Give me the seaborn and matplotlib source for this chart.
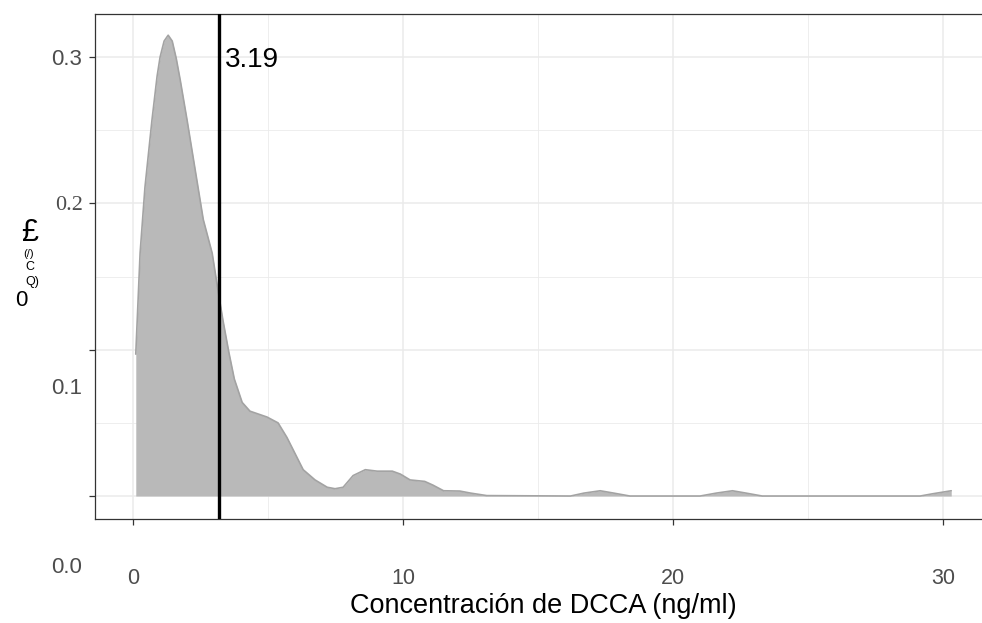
import matplotlib
matplotlib.use("Agg")
import matplotlib.pyplot as plt
import seaborn as sns
import pandas as pd
from matplotlib.transforms import ScaledTranslation

# ---- data ----
conc = [0.10, 0.26, 0.44, 0.70, 0.89, 1.00, 1.15, 1.30, 1.45, 1.60, 1.75, 2.00,
        2.30, 2.60, 2.93, 3.15, 3.33, 3.55, 3.75, 4.04, 4.33, 4.96, 5.37, 5.70,
        6.00, 6.30, 6.74, 7.19, 7.48, 7.78, 8.15, 8.60, 9.04, 9.60, 9.90, 10.26,
        10.80, 11.10, 11.50, 12.10, 12.50, 13.10, 16.20, 16.70, 17.30, 17.80,
        18.40, 21.00, 21.60, 22.20, 22.70, 23.30, 29.15, 29.60, 30.30]
density = [0.097, 0.166, 0.211, 0.257, 0.287, 0.300, 0.311, 0.315, 0.311, 0.299,
           0.284, 0.257, 0.223, 0.189, 0.166, 0.140, 0.120, 0.098, 0.080, 0.064,
           0.058, 0.054, 0.050, 0.040, 0.029, 0.018, 0.011, 0.006, 0.005, 0.006,
           0.014, 0.018, 0.017, 0.017, 0.015, 0.011, 0.010, 0.0075, 0.0036,
           0.0034, 0.002, 0.0003, 0.0, 0.002, 0.0036, 0.002, 0.0, 0.0, 0.002,
           0.0036, 0.002, 0.0, 0.0, 0.0015, 0.0036]
mean_value = 3.19
x_ticks = [0, 10, 20, 30]
x_tick_labels = ["0", "10", "20", "30"]
y_ticks = [0.0, 0.1, 0.2, 0.3]
y_tick_labels = ["0.0", "0.1", "0.2", "0.3"]
x_label = "Concentración de DCCA (ng/ml)"
y_label_parts = ["£", "(/)", "C", "Q)", "0"]

sns.set_theme(style="whitegrid")
plt.rcParams['font.family'] = ['Liberation Sans', 'DejaVu Sans']

W, H = 982, 623
fig = plt.figure(figsize=(W / 100, H / 100), dpi=100)
ax = fig.add_axes([95 / W, (H - 519) / H, 897 / W, 505 / H])

df = pd.DataFrame({"conc": conc, "density": density})
ax.fill_between(df["conc"], df["density"], 0, color="#b9b9b9", linewidth=0, zorder=2)
sns.lineplot(data=df, x="conc", y="density", ax=ax, color="#a3a3a3", lw=1.2,
             sort=False, estimator=None, zorder=3)
ax.axvline(mean_value, color="black", lw=2.4, zorder=4)
ax.text(mean_value + 0.22, 0.298, f"{mean_value:.2f}", fontsize=20,
        va="center", ha="left", color="black", zorder=5)

ax.set_xlim(-1.41, 31.81)
ax.set_ylim(-0.0157, 0.3295)
ax.set_xticks(x_ticks)
ax.set_xticklabels(x_tick_labels)
ax.set_xticks([5, 15, 25], minor=True)
ax.set_yticks(y_ticks)
ax.set_yticklabels(y_tick_labels)
ax.set_yticks([0.05, 0.15, 0.25], minor=True)

ax.grid(which="major", color="#ebebeb", lw=1.1)
ax.grid(which="minor", color="#ebebeb", lw=0.6)
ax.set_axisbelow(True)
for side in ["left", "bottom", "top", "right"]:
    ax.spines[side].set_color("#333333")
    ax.spines[side].set_linewidth(0.9)

ax.tick_params(axis="x", which="major", length=4, width=0.9, color="#333333",
               pad=31.5, labelsize=15.5, labelcolor="#4d4d4d", bottom=True)
ax.tick_params(axis="y", which="major", length=4, width=0.9, color="#333333",
               pad=5, labelsize=16, labelcolor="#4d4d4d", left=True)
ax.tick_params(which="minor", length=0)

# displaced tick labels as in the reference
offsets = {"0.1": -36, "0.0": -69}
for lab in ax.get_yticklabels():
    t = lab.get_text()
    if t in offsets:
        lab.set_transform(lab.get_transform() +
                          ScaledTranslation(0, offsets[t] / 100, fig.dpi_scale_trans))
    if t == "0.2":
        lab.set_fontfamily("Liberation Serif")

ax.set_xlabel(x_label, fontsize=19.5, color="black", labelpad=3)
ax.set_ylabel("")

# garbled y-axis title pieces
pieces = [(y_label_parts[0], 30, 233, 22), (y_label_parts[1], 29, 254, 8),
          (y_label_parts[2], 30, 267, 9), (y_label_parts[3], 32, 282, 9),
          (y_label_parts[4], 21, 300, 16)]
for txt, px, py, fs in pieces:
    fig.text(px / W, 1 - py / H, txt, fontsize=fs, ha="center", va="center",
             color="black")

fig.savefig("out.png", dpi=100)
